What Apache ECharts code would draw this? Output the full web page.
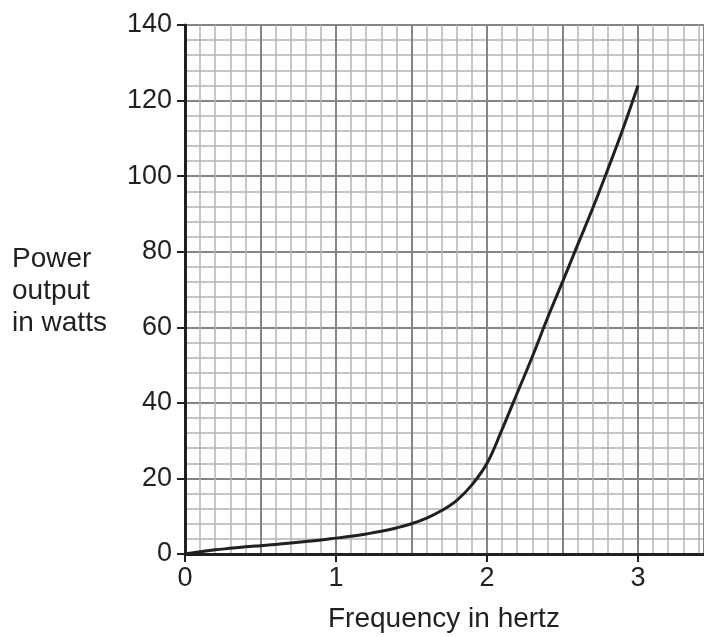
<!DOCTYPE html>
<html>
<head>
<meta charset="utf-8">
<script src="https://cdn.jsdelivr.net/npm/echarts@6/dist/echarts.min.js"></script>
<style>
  html, body { margin: 0; padding: 0; background: #fff; overflow: hidden; }
  #chart { width: 720px; height: 637px; }
</style>
</head>
<body>
<div id="chart"></div>
<script>
// frequency in hertz, every 0.1 Hz
const freq = [0, 0.1, 0.2, 0.3, 0.4, 0.5, 0.6, 0.7, 0.8, 0.9, 1.0,
  1.1, 1.2, 1.3, 1.4, 1.5, 1.6, 1.7, 1.8, 1.9, 2.0,
  2.1, 2.2, 2.3, 2.4, 2.5, 2.6, 2.7, 2.8, 2.9, 3.0];
// power output in watts
const power = [0, 0.6, 1.1, 1.5, 1.9, 2.2, 2.5, 2.9, 3.3, 3.7, 4.2,
  4.7, 5.3, 6.0, 6.9, 8.0, 9.5, 11.5, 14.2, 18.3, 24,
  33, 42.6, 52.2, 62.4, 72, 81.8, 91.5, 101.8, 112.5, 124];
const xTicks = [0, 1, 2, 3];
const yTicks = [0, 20, 40, 60, 80, 100, 120, 140];

// axis runs to the right edge of the page
const XMAX = 3.437;
const FONT = "'Liberation Sans', Arial, sans-serif";
const INK = "#231f20";

const myChart = echarts.init(document.getElementById("chart"));

const baseX = {
  type: "value",
  position: "bottom",
  min: 0,
  max: XMAX,
  axisLine: { show: false, onZero: false },
  axisTick: { show: false },
  axisLabel: { show: false },
  splitLine: { show: false },
};

myChart.setOption({
  animation: false,
  grid: { left: 185, right: 16, top: 25, bottom: 83 },
  xAxis: [
    // light grid every 0.1
    Object.assign({}, baseX, {
      interval: 0.1,
      splitLine: { show: true, lineStyle: { color: "#b4b4b4", width: 1.5 } },
    }),
    // darker grid every 0.5
    Object.assign({}, baseX, {
      interval: 0.5,
      splitLine: { show: true, lineStyle: { color: "#858585", width: 2 } },
    }),
    // the visible axis with labels
    Object.assign({}, baseX, {
      interval: 1,
      axisLine: { show: true, onZero: false, lineStyle: { color: INK, width: 3 } },
      axisTick: {
        show: true,
        length: 8,
        customValues: xTicks,
        lineStyle: { color: INK, width: 2 },
      },
      axisLabel: {
        show: true,
        margin: 11,
        color: INK,
        fontSize: 27,
        fontFamily: FONT,
        customValues: xTicks,
        formatter: (v) => (xTicks.includes(v) ? String(v) : ""),
      },
    }),
  ],
  yAxis: {
    type: "value",
    min: 0,
    max: 140,
    interval: 20,
    axisLine: { show: true, onZero: false, lineStyle: { color: INK, width: 3 } },
    axisTick: { show: true, length: 8, lineStyle: { color: INK, width: 2 } },
    axisLabel: {
      margin: 13,
      color: INK,
      fontSize: 27,
      fontFamily: FONT,
      formatter: (v) => (yTicks.includes(v) ? String(v) : ""),
    },
    splitLine: { show: true, lineStyle: { color: "#858585", width: 2 } },
    minorTick: { show: false, splitNumber: 5 },
    minorSplitLine: { show: true, lineStyle: { color: "#b4b4b4", width: 1.5 } },
  },
  graphic: [
    {
      type: "text",
      left: 12,
      top: 243,
      style: {
        text: "Power\noutput\nin watts",
        fill: INK,
        font: "28px " + FONT,
        lineHeight: 32,
      },
    },
    {
      type: "text",
      left: 328,
      top: 605,
      style: {
        text: "Frequency in hertz",
        fill: INK,
        font: "28px " + FONT,
      },
    },
  ],
  series: [
    {
      type: "line",
      xAxisIndex: 0,
      data: freq.map((f, i) => [f, power[i]]),
      smooth: 0.4,
      symbol: "none",
      lineStyle: { color: INK, width: 3 },
      z: 10,
    },
  ],
});
</script>
</body>
</html>
